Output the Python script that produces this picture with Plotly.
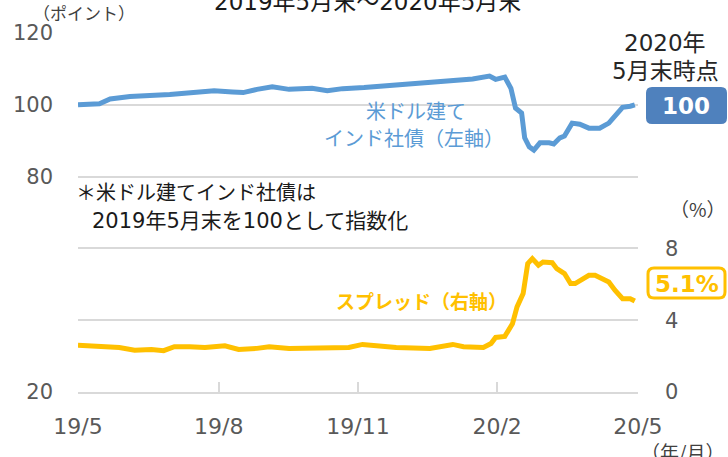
import plotly.graph_objects as go

# ---------------- data ----------------
bond_dates = ["2019-05-31", "2019-06-14", "2019-06-21", "2019-07-04", "2019-07-30",
              "2019-08-28", "2019-09-09", "2019-09-16", "2019-09-25", "2019-10-05",
              "2019-10-16", "2019-10-25", "2019-10-31", "2019-11-10", "2019-11-20",
              "2019-12-04", "2020-01-05", "2020-01-27", "2020-02-13", "2020-02-24",
              "2020-02-28", "2020-03-05", "2020-03-09", "2020-03-12", "2020-03-16",
              "2020-03-18", "2020-03-21", "2020-03-24", "2020-03-28", "2020-04-03",
              "2020-04-06", "2020-04-10", "2020-04-13", "2020-04-18", "2020-04-23",
              "2020-04-29", "2020-05-06", "2020-05-12", "2020-05-16", "2020-05-21",
              "2020-05-26", "2020-05-29"]
bond_index = [100.0, 100.3, 101.6, 102.3, 102.9,
              103.9, 103.6, 103.4, 104.3, 105.0,
              104.3, 104.4, 104.6, 103.9, 104.5,
              104.8, 106.0, 106.6, 107.2, 108.0,
              107.1, 107.7, 104.6, 99.1, 97.7,
              90.8, 88.3, 87.4, 89.4, 89.4,
              89.1, 90.8, 91.3, 94.9, 94.6,
              93.5, 93.5, 94.9, 96.7, 99.3,
              99.6, 100.0]

spread_dates = ["2019-05-31", "2019-06-14", "2019-06-27", "2019-07-07", "2019-07-18",
                "2019-07-26", "2019-08-02", "2019-08-12", "2019-08-22", "2019-09-04",
                "2019-09-13", "2019-09-25", "2019-10-03", "2019-10-16", "2019-11-05",
                "2019-11-24", "2019-12-03", "2019-12-25", "2020-01-16", "2020-01-31",
                "2020-02-07", "2020-02-20", "2020-02-25", "2020-02-28", "2020-03-05",
                "2020-03-07", "2020-03-10", "2020-03-13", "2020-03-17", "2020-03-20",
                "2020-03-23", "2020-03-27", "2020-03-30", "2020-04-05", "2020-04-08",
                "2020-04-13", "2020-04-17", "2020-04-20", "2020-04-29", "2020-05-03",
                "2020-05-12", "2020-05-16", "2020-05-21", "2020-05-26", "2020-05-29"]
spread_pct = [2.60, 2.55, 2.48, 2.33, 2.37,
              2.30, 2.52, 2.52, 2.48, 2.57,
              2.37, 2.43, 2.52, 2.43, 2.43,
              2.48, 2.65, 2.48, 2.43, 2.65,
              2.52, 2.48, 2.70, 3.04, 3.10,
              3.44, 3.80, 4.74, 5.48, 7.15,
              7.43, 7.06, 7.24, 7.20, 6.87,
              6.60, 6.04, 6.04, 6.50, 6.50,
              6.13, 5.67, 5.20, 5.20, 5.07]

x_tick_vals = ["2019-05-31", "2019-08-31", "2019-11-30", "2020-02-29", "2020-05-31"]
x_tick_text = ["19/5", "19/8", "19/11", "20/2", "20/5"]
left_tick_vals = [20, 40, 60, 80, 100, 120]
left_tick_text = ["20", "", "", "80", "100", "120"]
right_tick_vals = [0, 4, 8]
right_tick_text = ["0", "4", "8"]
latest_index_label = "100"
latest_spread_label = "5.1%"

# ---------------- style ----------------
BLUE = "#5B9BD5"
BOX_BLUE = "#4F81BD"
YELLOW = "#FFC000"
GRID = "#D9D9D9"
TICK = "#595959"
NUMF = "DejaVu Sans"
JPF = "Noto Sans CJK JP"
MIXF = "DejaVu Sans, Noto Sans CJK JP"

W, H = 728, 457
L, R, T, B = 78, 638, 33, 392


def px(x):
    return (x - L) / (R - L)


def py(y):
    return (B - y) / (B - T)


def rounded_rect(x0, y0, x1, y1, r):
    rx = r / (R - L)
    ry = r / (B - T)
    X0, X1 = px(x0), px(x1)
    Y0, Y1 = py(y0), py(y1)
    return (f"M {X0+rx},{Y0} L {X1-rx},{Y0} Q {X1},{Y0} {X1},{Y0-ry} "
            f"L {X1},{Y1+ry} Q {X1},{Y1} {X1-rx},{Y1} "
            f"L {X0+rx},{Y1} Q {X0},{Y1} {X0},{Y1+ry} "
            f"L {X0},{Y0-ry} Q {X0},{Y0} {X0+rx},{Y0} Z")


fig = go.Figure()
fig.add_trace(go.Scatter(x=bond_dates, y=bond_index, mode="lines",
                         line=dict(color=BLUE, width=5), yaxis="y", showlegend=False))
fig.add_trace(go.Scatter(x=spread_dates, y=spread_pct, mode="lines",
                         line=dict(color=YELLOW, width=5), yaxis="y2", showlegend=False))

fig.update_layout(
    width=W, height=H, autosize=False,
    margin=dict(l=L, r=W - R, t=T, b=H - B, pad=0),
    paper_bgcolor="white", plot_bgcolor="white",
    xaxis=dict(type="date", range=["2019-05-31", "2020-05-31 02:00"],
               tickmode="array", tickvals=x_tick_vals, ticktext=x_tick_text,
               showgrid=False, showline=True, linecolor=GRID, linewidth=2,
               ticks="inside", ticklen=10, tickwidth=1.5, tickcolor=GRID,
               tickfont=dict(family=NUMF, size=22, color=TICK),
               ticklabelstandoff=14, zeroline=False, automargin=False),
    yaxis=dict(range=[20, 120], tickmode="array", tickvals=left_tick_vals,
               ticktext=left_tick_text, showgrid=True, gridcolor=GRID, gridwidth=1.5,
               showline=False, zeroline=False, ticks="",
               tickfont=dict(family=NUMF, size=21, color=TICK),
               ticklabelstandoff=24, automargin=False),
    yaxis2=dict(range=[0, 20], overlaying="y", side="right", tickmode="array",
                tickvals=right_tick_vals, ticktext=right_tick_text, showgrid=False,
                showline=False, zeroline=False, ticks="",
                tickfont=dict(family=NUMF, size=21, color=TICK),
                ticklabelstandoff=26, automargin=False),
)

shapes = [
    dict(type="path", xref="paper", yref="paper", path=rounded_rect(646, 87, 727, 124, 6),
         fillcolor=BOX_BLUE, line=dict(width=0), layer="above"),
    dict(type="path", xref="paper", yref="paper", path=rounded_rect(648, 268, 725, 298, 6),
         fillcolor="white", line=dict(color=YELLOW, width=3), layer="above"),
]
fig.update_layout(shapes=shapes)


def ann(text, x, y, size, color, family=JPF, xanchor="center", yanchor="middle", align="center"):
    return dict(text=text, x=px(x), y=py(y), xref="paper", yref="paper",
                showarrow=False, xanchor=xanchor, yanchor=yanchor, align=align,
                borderpad=0,
                font=dict(family=family, size=size, color=color))


annotations = [
    ann("2019年5月末〜2020年5月末", 367, 2, 23, "#1a1a1a", family=MIXF),
    ann("（ポイント）", 84, 12, 17, "#404040"),
    ann("2020年", 665, 43, 23, "#262626", family=MIXF),
    ann("5月末時点", 665, 71, 23, "#262626", family=MIXF),
    ann(f"<b>{latest_index_label}</b>", 686, 106, 23, "white", family=NUMF),
    ann("米ドル建て", 416, 110, 20, BLUE),
    ann("インド社債（左軸）", 414, 137, 20, BLUE),
    ann("＊米ドル建てインド社債は", 75, 191, 20, "#1a1a1a", xanchor="left"),
    ann("2019年5月末を100として指数化", 91, 221, 21, "#1a1a1a", family=MIXF, xanchor="left"),
    ann("<b>スプレッド（右軸）</b>", 335, 300, 19, YELLOW, xanchor="left"),
    ann("（%）", 698, 208, 19, "#404040"),
    ann(f"<b>{latest_spread_label}</b>", 687, 284, 23, YELLOW, family=NUMF),
    ann("（年/月）", 682, 452, 19, "#404040"),
]
fig.update_layout(annotations=annotations)

# remove the browser's default 8px body margin so the figure sits at the page corner
fig.write_html("out.html", config={"displayModeBar": False},
               post_script="document.body.style.margin='0';")
